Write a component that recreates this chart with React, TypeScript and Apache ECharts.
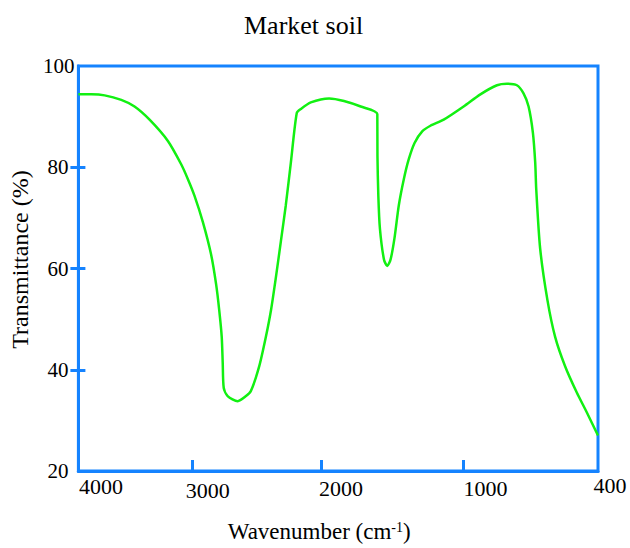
import React, { useEffect, useRef } from "react";
import * as echarts from "echarts";

// Wavenumber (cm-1) and transmittance (%)
const wavenumbers = [
  4000, 3910, 3818, 3703, 3611, 3507, 3380, 3288, 3242, 3196,
  3138, 3081, 3046, 3024, 3007, 3000, 2993, 2966, 2896, 2839,
  2805, 2747, 2701, 2666, 2632, 2597, 2563, 2528, 2487, 2459,
  2390, 2263, 2160, 2044, 1929, 1928, 1922, 1911, 1883, 1860,
  1837, 1810, 1780, 1745, 1711, 1671, 1618, 1561, 1469, 1331,
  1215, 1100, 1031, 962, 916, 881, 851, 835, 828, 801,
  750, 697, 628, 547, 478, 400,
];
const transmittance = [
  94.4, 94.4, 94.2, 93.3, 92.0, 89.4, 85.2, 80.6, 77.7, 74.4,
  69.2, 62.8, 56.9, 51.7, 46.5, 41.3, 36.4, 34.8, 33.8, 34.8,
  35.8, 40.7, 46.5, 51.7, 58.2, 65.4, 72.5, 80.9, 90.7, 91.5,
  92.8, 93.6, 93.1, 92.0, 90.5, 82.2, 74.4, 67.9, 61.8, 60.5,
  61.8, 66.0, 72.5, 77.7, 81.6, 84.8, 87.1, 88.2, 89.4, 92.0,
  94.4, 96.2, 96.5, 96.2, 94.6, 92.0, 86.8, 80.9, 75.7, 64.0,
  53.7, 46.5, 40.7, 35.5, 31.6, 27.0,
];

const xLabelValues = [4000, 3000, 2000, 1000, 400];
const xTickValues = [3210, 2320, 1335];
const yTickValues = [40, 60, 80];

const TITLE = "Market soil";
const Y_NAME = "Transmittance (%)";

const BLUE = "#1583ff";
const GREEN = "#12f012";
const FONT = "Liberation Serif";

export default function App() {
  const ref = useRef<HTMLDivElement>(null);

  useEffect(() => {
    if (!ref.current) return;
    const chart = echarts.init(ref.current, undefined, { renderer: "svg" });

    const xRichBase = { fontFamily: FONT, fontSize: 22, color: "#000", lineHeight: 22 };
    const xLabelStyleKey: Record<number, string> = {
      4000: "a",
      3000: "b",
      2000: "c",
      1000: "c",
      400: "e",
    };

    const option: any = {
      animation: false,
      backgroundColor: "#fff",
      textStyle: { fontFamily: FONT },
      title: {
        text: TITLE,
        left: 239,
        top: 7,
        textStyle: { fontFamily: FONT, fontSize: 26, fontWeight: "normal", color: "#000" },
      },
      grid: {
        left: 77,
        right: 32,
        top: 66,
        bottom: 72,
        show: true,
        borderColor: BLUE,
        borderWidth: 3,
        backgroundColor: "transparent",
      },
      xAxis: {
        type: "value",
        inverse: true,
        min: 400,
        max: 4000,
        name: "Wavenumber (cm{sup|-1})",
        nameLocation: "middle",
        nameGap: 49,
        nameTextStyle: {
          fontFamily: FONT,
          fontSize: 23,
          color: "#000",
          padding: [0, 38, 0, 0],
          rich: {
            sup: { fontFamily: FONT, fontSize: 14, color: "#000", verticalAlign: "top" },
          },
        },
        axisLine: { show: true, lineStyle: { color: BLUE, width: 3 } },
        axisTick: {
          show: true,
          inside: true,
          length: 11,
          customValues: xTickValues,
          lineStyle: { color: BLUE, width: 3 },
        },
        axisLabel: {
          customValues: xLabelValues,
          margin: 3,
          fontFamily: FONT,
          formatter: (v: number) => `{${xLabelStyleKey[v] || "c"}|${v}}`,
          rich: {
            a: { ...xRichBase, padding: [3, 0, 0, 45] },
            b: { ...xRichBase, padding: [10, 30, 0, 0] },
            c: { ...xRichBase, padding: [6, 52, 0, 0] },
            e: { ...xRichBase, padding: [0, 0, 0, 24] },
          },
        },
        splitLine: { show: false },
      },
      yAxis: [
        {
          type: "value",
          min: 20,
          max: 100,
          interval: 20,
          position: "left",
          name: Y_NAME,
          nameLocation: "middle",
          nameGap: 42,
          nameTextStyle: {
            fontFamily: FONT,
            fontSize: 24,
            color: "#000",
            padding: [0, 0, 0, 18],
          },
          axisLine: { show: true, lineStyle: { color: BLUE, width: 3 } },
          axisTick: {
            show: true,
            inside: false,
            length: 8,
            customValues: yTickValues,
            lineStyle: { color: BLUE, width: 3 },
          },
          axisLabel: {
            margin: 4,
            fontFamily: FONT,
            formatter: (v: number) => (v === 100 ? `{t|${v}}` : `{n|${v}}`),
            rich: {
              t: { fontFamily: FONT, fontSize: 21, color: "#000" },
              n: { fontFamily: FONT, fontSize: 21, color: "#000", padding: [0, 6, 0, 0] },
            },
          },
          splitLine: { show: false },
        },
        {
          type: "value",
          min: 20,
          max: 100,
          interval: 20,
          position: "left",
          offset: 0,
          axisLine: { show: false },
          axisTick: {
            show: true,
            inside: true,
            length: 7,
            customValues: yTickValues,
            lineStyle: { color: BLUE, width: 3 },
          },
          axisLabel: { show: false },
          splitLine: { show: false },
        },
      ],
      series: [
        {
          type: "line",
          xAxisIndex: 0,
          yAxisIndex: 0,
          data: wavenumbers.map((w, i) => [w, transmittance[i]]),
          showSymbol: false,
          symbol: "none",
          smooth: 0.25,
          lineStyle: { color: GREEN, width: 2.5 },
          z: 3,
        },
      ],
    };

    chart.setOption(option);
    return () => chart.dispose();
  }, []);

  return <div ref={ref} style={{ width: 630, height: 548, position: "absolute", left: 0, top: 0 }} />;
}
